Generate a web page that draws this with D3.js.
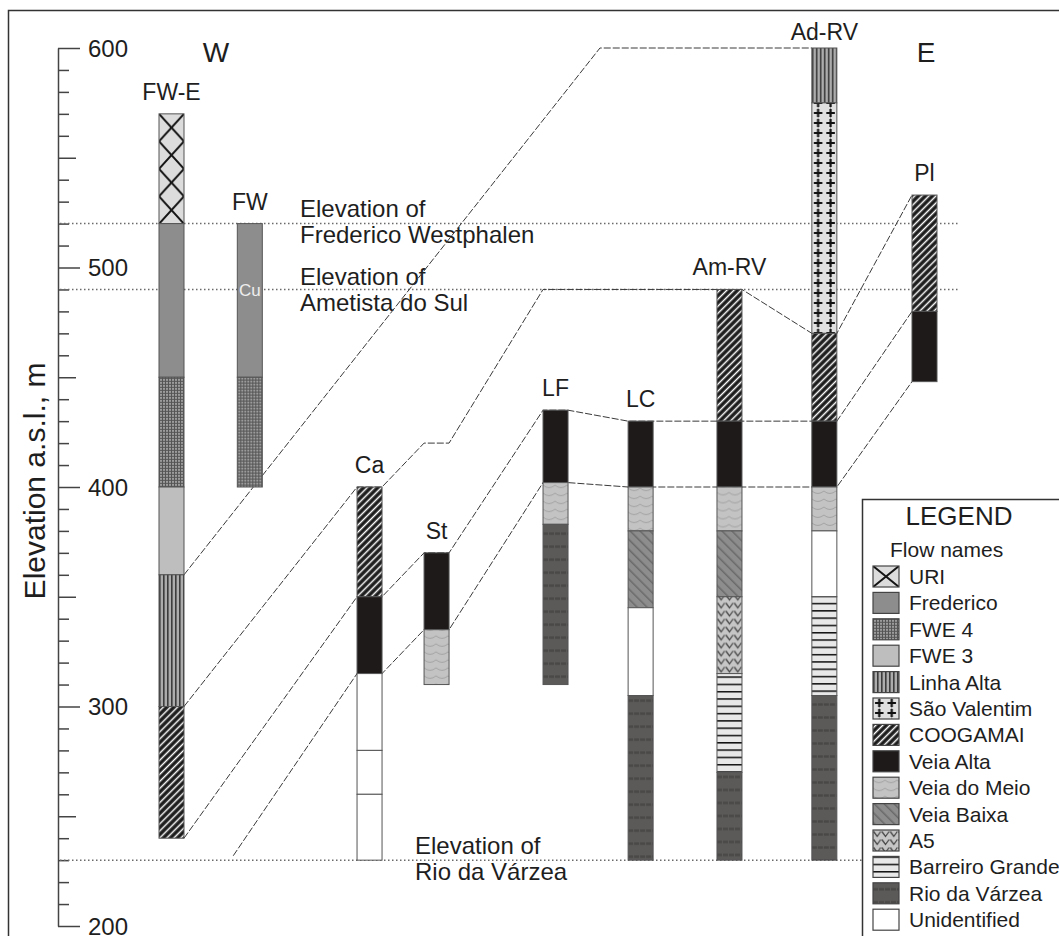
<!doctype html>
<html lang="en">
  <head>
    <meta charset="utf-8">
    <script src="https://cdn.jsdelivr.net/npm/d3@7"></script>
    <style>
      body {margin:0; background:#fff}
      svg {display:block}
      text {font-family:"Liberation Sans", Arial, sans-serif; fill:#1e1e1e}
    </style>
    <title>Flow correlation W-E</title>
  </head>
  <body>
    <script>
      // columns along the W-E section (relative position 0..100)
      const columns = ["FW-E","FW","Ca","St","LF","LC","Am-RV","Ad-RV","Pl"];
      const columnPos = [0, 10.4, 26.3, 35.2, 51.0, 62.3, 74.1, 86.7, 100];

      // logs: [flow, top, bottom] in m a.s.l.
      const logFWE = [["URI",570,520],["Frederico",520,450],["FWE 4",450,400],["FWE 3",400,360],["Linha Alta",360,300],["COOGAMAI",300,240]];
      const logFW = [["Frederico",520,450],["FWE 4",450,400]];
      const logCa = [["COOGAMAI",400,350],["Veia Alta",350,315],["Unidentified",315,280],["Unidentified",280,260],["Unidentified",260,230]];
      const logSt = [["Veia Alta",370,335],["Veia do Meio",335,310]];
      const logLF = [["Veia Alta",435,402],["Veia do Meio",402,383],["Rio da Várzea",383,310]];
      const logLC = [["Veia Alta",430,400],["Veia do Meio",400,380],["Veia Baixa",380,345],["Unidentified",345,305],["Rio da Várzea",305,230]];
      const logAmRV = [["COOGAMAI",490,430],["Veia Alta",430,400],["Veia do Meio",400,380],["Veia Baixa",380,350],["A5",350,315],["Barreiro Grande",315,270],["Rio da Várzea",270,230]];
      const logAdRV = [["Linha Alta",600,575],["São Valentim",575,470],["COOGAMAI",470,430],["Veia Alta",430,400],["Veia do Meio",400,380],["Unidentified",380,350],["Barreiro Grande",350,305],["Rio da Várzea",305,230]];
      const logPl = [["COOGAMAI",533,480],["Veia Alta",480,448]];
      const logs = [logFWE, logFW, logCa, logSt, logLF, logLC, logAmRV, logAdRV, logPl];

      // correlation lines: [column or section position, elevation]
      const corrLinhaAlta = [["FW-E",360],[56.9,600],["Ad-RV",600]];
      const corrCoogamai = [["FW-E",300],["Ca",400],["St",420],["LF",490],["LC",490],["Am-RV",490],["Ad-RV",470],["Pl",533]];
      const corrVeiaAltaTop = [["FW-E",240],["Ca",350],["St",370],["LF",435],["LC",430],["Am-RV",430],["Ad-RV",430],["Pl",480]];
      const corrVeiaAltaBase = [[8.2,232],["Ca",315],["St",335],["LF",402],["LC",400],["Am-RV",400],["Ad-RV",400],["Pl",448]];
      const corrLines = [corrLinhaAlta, corrCoogamai, corrVeiaAltaTop, corrVeiaAltaBase];

      // town elevations
      const elevLevels = [520, 490, 230];
      const elevNames = ["Frederico Westphalen", "Ametista do Sul", "Rio da Várzea"];

      // legend
      const flows = ["URI","Frederico","FWE 4","FWE 3","Linha Alta","São Valentim","COOGAMAI","Veia Alta","Veia do Meio","Veia Baixa","A5","Barreiro Grande","Rio da Várzea","Unidentified"];

      const yTicks = d3.range(200, 601, 10);

      let w = 1059, h = 936;
      let colW = 25;

      let svg = d3.select("body").append("svg")
        .attr("width", w)
        .attr("height", h);

      let ys = d3.scaleLinear().domain([200,600]).range([926,48]);
      let xs = d3.scaleLinear().domain([0,100]).range([171.5,924.5]);

      // ---- patterns
      let defs = svg.append("defs");
      function pat(id, pw, ph, bg, tr) {
        let p = defs.append("pattern").attr("id", id)
          .attr("patternUnits","userSpaceOnUse")
          .attr("width", pw).attr("height", ph);
        if (tr) p.attr("patternTransform", tr);
        p.append("rect").attr("width", pw).attr("height", ph).attr("fill", bg);
        return p;
      }
      pat("p-uri", 25, 27.5, "#dcdcdc").append("path")
        .attr("d","M0,0L25,27.5M25,0L0,27.5").attr("stroke","#151515").attr("stroke-width",2);
      pat("p-uri-l", 26, 21, "#dcdcdc").append("path")
        .attr("d","M0,0L26,21M26,0L0,21").attr("stroke","#151515").attr("stroke-width",2);
      pat("p-fwe4", 3, 3, "#9c9c9c").append("path")
        .attr("d","M0,0.5H3M0.5,0V3").attr("stroke","#555").attr("stroke-width",1);
      pat("p-linha", 4, 10, "#acacac").append("rect")
        .attr("x",0).attr("width",1.6).attr("height",10).attr("fill","#3c3c3c");
      let sv = pat("p-sv", 12.5, 10, "#e0e0e0");
      sv.append("path")
        .attr("d","M6.25,0V10").attr("stroke","#888").attr("stroke-width",0.8);
      sv.append("path")
        .attr("d","M6.25,1V9M2,5H10.5").attr("stroke","#111").attr("stroke-width",2.2);
      pat("p-coog", 5, 5, "#1b1b1b", "rotate(45)").append("rect")
        .attr("x",1.8).attr("width",1.5).attr("height",5).attr("fill","#fff");
      pat("p-meio", 12, 8, "#c3c3c3").append("path")
        .attr("d","M0,3Q6,8 12,3").attr("stroke","#a3a3a3").attr("fill","none");
      pat("p-baixa", 7, 7, "#8d8d8d", "rotate(-45)").append("rect")
        .attr("x",0).attr("width",1.5).attr("height",7).attr("fill","#6a6a6a");
      pat("p-a5", 25/3, 8, "#c6c6c6").append("path")
        .attr("d","M0.6,1.5L4.17,6.5L7.7,1.5").attr("stroke","#474747").attr("stroke-width",1.3).attr("fill","none");
      pat("p-barr", 10, 7.3, "#e8e8e8").append("rect")
        .attr("y",0).attr("width",10).attr("height",1.5).attr("fill","#111");
      pat("p-rio", 12, 13, "#5c5959").append("path")
        .attr("d","M0,6.5H12").attr("stroke","#4a4747").attr("stroke-width",2.5).attr("stroke-dasharray","5,1");

      let fillOf = {
        "URI":"url(#p-uri)", "Frederico":"#8d8d8d", "FWE 4":"url(#p-fwe4)", "FWE 3":"#bebebe",
        "Linha Alta":"url(#p-linha)", "São Valentim":"url(#p-sv)", "COOGAMAI":"url(#p-coog)",
        "Veia Alta":"#1e1a19", "Veia do Meio":"url(#p-meio)", "Veia Baixa":"url(#p-baixa)",
        "A5":"url(#p-a5)", "Barreiro Grande":"url(#p-barr)", "Rio da Várzea":"url(#p-rio)",
        "Unidentified":"#fff"
      };

      // frame
      svg.append("rect")
        .attr("x",8.5).attr("y",10.5).attr("width",1200).attr("height",1000)
        .attr("fill","none").attr("stroke","#333").attr("stroke-width",1.5);

      // ---- axis
      let yAxis = d3.axisRight(ys)
        .tickValues(yTicks)
        .tickSizeOuter(0)
        .tickFormat(d => d % 100 === 0 ? d : "");
      let ax = svg.append("g")
        .attr("transform","translate(58,0)")
        .call(yAxis);
      ax.select(".domain").attr("stroke","#444").attr("stroke-width",1.5);
      ax.selectAll(".tick line")
        .attr("stroke","#444").attr("stroke-width",1.5)
        .attr("x2", d => d % 100 === 0 ? 22 : (d % 50 === 0 ? 18 : 11));
      ax.selectAll(".tick text")
        .attr("x",30).attr("dy","0.34em")
        .attr("font-size","24px").attr("font-family",null)
        .attr("fill","#1e1e1e");

      svg.append("text")
        .attr("transform","translate(34,481) rotate(-90)")
        .attr("text-anchor","middle")
        .attr("dy","0.35em")
        .attr("font-size","30px")
        .text("Elevation a.s.l., m");

      // ---- town elevations (dotted)
      svg.selectAll("line.elev")
        .data(elevLevels)
        .enter()
        .append("line")
        .attr("class","elev")
        .attr("x1",60).attr("x2",958)
        .attr("y1",d => ys(d)).attr("y2",d => ys(d))
        .attr("stroke","#6a6a6a").attr("stroke-width",1.5)
        .attr("stroke-dasharray","1.5,2.5");

      let elevTextX = [300, 300, 415];
      let elevTextDy = [-7, -4, -6];
      elevLevels.forEach((lv,i) => {
        let t = svg.append("text").attr("font-size","24px");
        t.append("tspan").attr("x",elevTextX[i]).attr("y",ys(lv)+elevTextDy[i]).text("Elevation of");
        t.append("tspan").attr("x",elevTextX[i]).attr("y",ys(lv)+elevTextDy[i]+26).text(elevNames[i]);
      });

      // ---- correlation lines
      function colLeft(name) { return xs(columnPos[columns.indexOf(name)]) - colW/2; }
      function corrPoints(pts) {
        let out = [];
        pts.forEach((p,i) => {
          let y = ys(p[1]);
          if (typeof p[0] === "number") { out.push([xs(p[0]), y]); return; }
          let l = colLeft(p[0]);
          if (i > 0) out.push([l, y]);
          if (i < pts.length-1) out.push([l+colW, y]);
        });
        return out;
      }
      svg.selectAll("path.corr")
        .data(corrLines)
        .enter()
        .append("path")
        .attr("class","corr")
        .attr("d", d => d3.line()(corrPoints(d)))
        .attr("fill","none")
        .attr("stroke","#3a3a3a").attr("stroke-width",1)
        .attr("stroke-dasharray","7,2");

      // ---- columns
      columns.forEach((name,i) => {
        let log = logs[i];
        let top = log[0][1];
        let g = svg.append("g")
          .attr("transform","translate(" + (xs(columnPos[i]) - colW/2) + "," + ys(top) + ")");
        g.selectAll("rect")
          .data(log)
          .enter()
          .append("rect")
          .attr("x",0)
          .attr("y",d => ys(d[1]) - ys(top))
          .attr("width",colW)
          .attr("height",d => ys(d[2]) - ys(d[1]))
          .attr("fill",d => fillOf[d[0]])
          .attr("stroke","#555").attr("stroke-width",1);
        svg.append("text")
          .attr("x", xs(columnPos[i]))
          .attr("y", ys(top) - (name === "Ad-RV" ? 8 : 14))
          .attr("text-anchor","middle")
          .attr("font-size","23px")
          .text(name);
      });

      // copper note in FW
      svg.append("text")
        .attr("x", xs(columnPos[1])).attr("y", ys(487))
        .attr("text-anchor","middle")
        .attr("font-size","17px")
        .style("fill","#eeeeee")
        .text("Cu");

      svg.append("text").attr("x",216).attr("y",62).attr("text-anchor","middle").attr("font-size","28px").text("W");
      svg.append("text").attr("x",926).attr("y",62).attr("text-anchor","middle").attr("font-size","28px").text("E");

      // ---- legend
      let lg = svg.append("g").attr("transform","translate(862,499)");
      lg.append("rect")
        .attr("x",0.5).attr("y",0.5).attr("width",300).attr("height",500)
        .attr("fill","#fff").attr("stroke","#333").attr("stroke-width",1.5);
      lg.append("text").attr("x",97).attr("y",26).attr("text-anchor","middle").attr("font-size","26px").text("LEGEND");
      lg.append("text").attr("x",28).attr("y",58).attr("font-size","21px").text("Flow names");
      let rows = lg.selectAll("g.row")
        .data(flows)
        .enter()
        .append("g")
        .attr("class","row")
        .attr("transform",(d,i) => "translate(11," + (67 + i*26.4) + ")");
      rows.append("rect")
        .attr("width",26).attr("height",21)
        .attr("fill",d => d === "URI" ? "url(#p-uri-l)" : fillOf[d])
        .attr("stroke","#444").attr("stroke-width",1.2);
      rows.append("text")
        .attr("x",36).attr("y",18)
        .attr("font-size","21px")
        .text(d => d);
    </script>
  </body>
</html>
